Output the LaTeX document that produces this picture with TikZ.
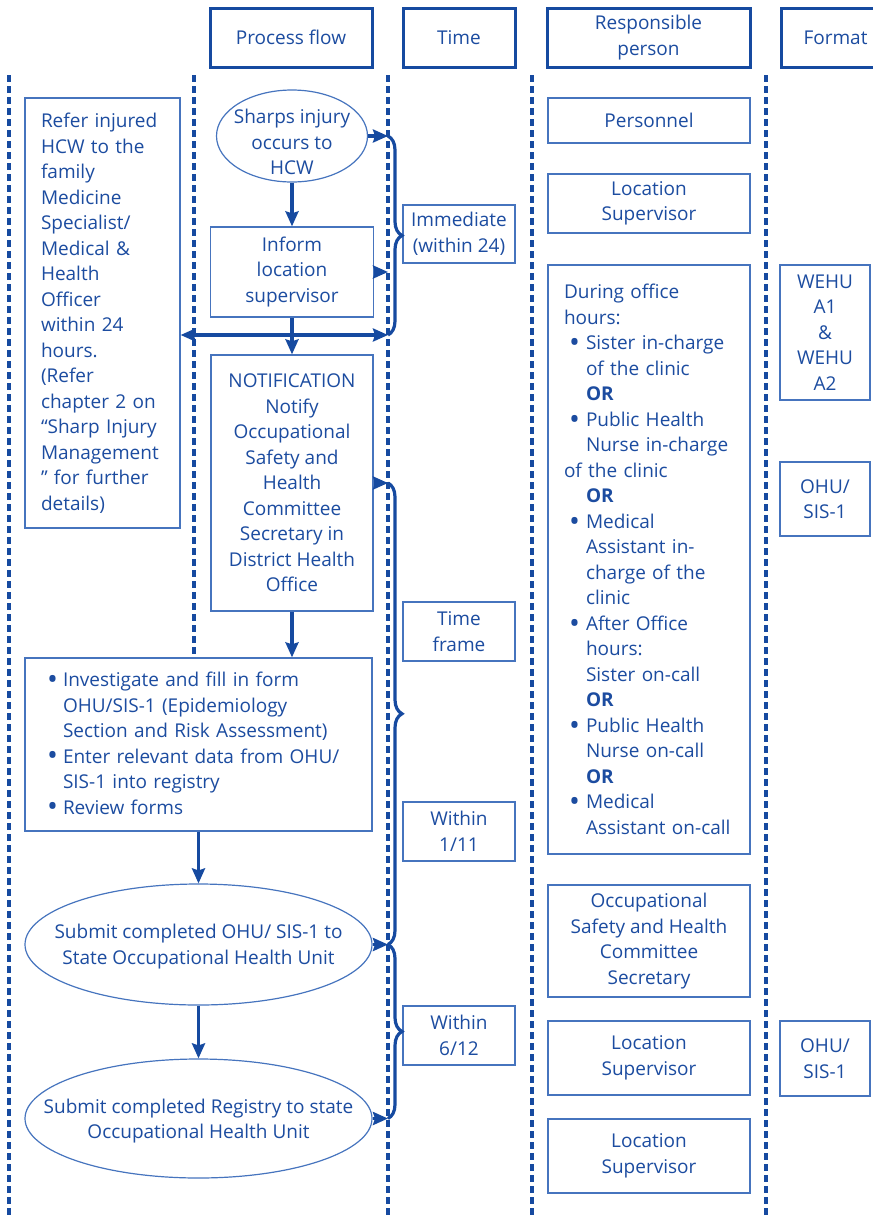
\documentclass[tikz,border=0pt]{standalone}
\usepackage{fontspec}
\setmainfont{Open Sans}
\usetikzlibrary{arrows.meta,decorations.pathreplacing,shapes.geometric}

\definecolor{ink}{RGB}{28,76,160}
\definecolor{rule}{RGB}{22,74,160}
\definecolor{edge}{RGB}{70,116,190}

% list helpers for the boxed texts
\newcommand\blt{\raisebox{-2.8pt}{\fontsize{29}{25.5}\selectfont •}}
\newcommand\rpbul{\hspace*{5pt}\makebox[17pt][l]{\blt}}
\newcommand\rpind{\hspace*{22pt}}
\newcommand\ivbul{\makebox[16pt][l]{\blt}}
\newcommand\ivind{\hspace*{16pt}}

\begin{document}
\begin{tikzpicture}[x=1pt,y=-1pt,
  every node/.style={font=\fontsize{19}{25.5}\selectfont, text=ink},
  head/.style={draw=rule, fill=white, line width=3pt, inner sep=0pt, align=center},
  cell/.style={draw=edge, fill=white, line width=1.3pt, inner sep=0pt, align=center},
  oval/.style={ellipse, draw=edge, fill=white, line width=1.2pt, inner sep=0pt},
  words/.style={inner sep=0pt, align=center},
  lane/.style={draw=rule, line width=3.2pt, dash pattern=on 7pt off 4pt},
  flow/.style={draw=rule, line width=3.2pt, -{Stealth[length=15pt,width=13pt,inset=2pt]}},
  both/.style={draw=rule, line width=3.2pt, {Stealth[length=15pt,width=13pt,inset=2pt]}-{Stealth[length=15pt,width=13pt,inset=2pt]}},
  curly/.style={draw=rule, line width=3.2pt, decorate, decoration={brace, amplitude=14pt}},
]
\useasboundingbox (0,0) rectangle (873,1216);
\clip (0,0) rectangle (873,1216);

% column lanes (the process-flow lane stops at the investigation box)
\foreach \lx in {9,388,532,766}
  \draw[lane] (\lx,75) -- (\lx,1216);
\draw[lane] (194,75) -- (194,657);
\coordinate (tl) at (388,0);

% column headings
\node[head, minimum width=162, minimum height=59] (hproc) at (291,37.5) {Process flow};
\node[head, minimum width=112, minimum height=59] (htime) at (459,37.5) {Time};
\node[head, minimum width=203, minimum height=59] (hresp) at (648.5,37.5) {Responsible\\person};
\node[head, minimum width=109, minimum height=59] (hfmt) at (835.5,37.5) {Format};

% process flow
\node[cell, minimum height=430, text width=123, inner xsep=16pt, align=left] (refer) at (102.5,313)
  {Refer injured\\HCW to the\\family\\Medicine\\Specialist/\\Medical \&\\Health\\Officer\\within 24\\hours.\\(Refer\\chapter 2 on\\“Sharp Injury\\Management\\” for further\\details)};
\node[oval, minimum width=151, minimum height=92] (sharps) at (292,136) {};
\node[words] (sharpst) at (292,142) {Sharps injury\\occurs to\\HCW};
\node[cell, minimum width=163, minimum height=90] (inform) at (292,272) {Inform\\location\\supervisor};
\node[cell, minimum width=162, minimum height=256] (notif) at (292,483)
  {NOTIFICATION\\Notify\\Occupational\\Safety and\\Health\\Committee\\Secretary in\\District Health\\Office};
\node[cell, minimum height=173, text width=303, inner xsep=22pt, align=left] (invest) at (198.5,744.5)
  {\ivbul Investigate and fill in form\\
   \ivind OHU/SIS-1 (Epidemiology\\
   \ivind Section and Risk Assessment)\\
   \ivbul Enter relevant data from OHU/\\
   \ivind SIS-1 into registry\\
   \ivbul Review forms};
\node[oval, minimum width=347, minimum height=121] (sub1) at (198.5,944.5) {};
\node[words] (sub1t) at (198.5,946.5) {Submit completed OHU/ SIS-1 to\\State Occupational Health Unit};
\node[oval, minimum width=347, minimum height=119] (sub2) at (198.5,1118.5) {};
\node[words] (sub2t) at (198.5,1121) {Submit completed Registry to state\\Occupational Health Unit};

% time frames
\node[cell, minimum width=112, minimum height=58] (imm) at (459,234) {Immediate\\(within 24)};
\node[cell, minimum width=112, minimum height=59] (tframe) at (459,631.5) {Time\\frame};
\node[cell, minimum width=112, minimum height=59] (w111) at (459,831.5) {Within\\1/11};
\node[cell, minimum width=112, minimum height=59] (w612) at (459,1035.5) {Within\\6/12};

% responsible persons
\node[cell, minimum width=202, minimum height=45] (pers) at (649,120.5) {Personnel};
\node[cell, minimum width=202, minimum height=59] (loc1) at (649,203.5) {Location\\Supervisor};
\node[cell, minimum height=589, text width=170, inner xsep=16pt, align=left] (duty) at (649,559.5)
  {During office\\
   hours:\\
   \rpbul Sister in-charge\\
   \rpind of the clinic\\
   \rpind\textbf{OR}\\
   \rpbul Public Health\\
   \rpind Nurse in-charge\\
   of the clinic\\
   \rpind\textbf{OR}\\
   \rpbul Medical\\
   \rpind Assistant in-\\
   \rpind charge of the\\
   \rpind clinic\\
   \rpbul After Office\\
   \rpind hours:\\
   \rpind Sister on-call\\
   \rpind\textbf{OR}\\
   \rpbul Public Health\\
   \rpind Nurse on-call\\
   \rpind\textbf{OR}\\
   \rpbul Medical\\
   \rpind Assistant on-call};
\node[cell, minimum width=202, minimum height=112] (occ) at (649,941) {Occupational\\Safety and Health\\Committee\\Secretary};
\node[cell, minimum width=202, minimum height=74] (loc2) at (649,1058) {Location\\Supervisor};
\node[cell, minimum width=202, minimum height=74] (loc3) at (649,1156) {Location\\Supervisor};

% formats
\node[cell, minimum width=90, minimum height=135] (wehu) at (825,332.5) {WEHU\\A1\\\&\\WEHU\\A2};
\node[cell, minimum width=90, minimum height=74] (ohu1) at (825,499) {OHU/\\SIS-1};
\node[cell, minimum width=90, minimum height=75] (ohu2) at (825,1058.5) {OHU/\\SIS-1};

% flow connectors
\coordinate (fork) at (292,335);
\draw[flow] (sharps.south) -- (inform.north);
\draw[flow] (inform.south) -- (notif.north);
\draw[flow] (notif.south) -- (notif.south |- invest.north);
\draw[flow] (invest.south) -- (sub1.north);
\draw[flow] (sub1.south) -- (sub2.north);
\draw[both] (fork -| refer.east) -- (fork -| tl);

% links into the time lane
\draw[flow] (sharps.east) -- (sharps.east -| tl);
\draw[flow] (inform.east) -- (inform.east -| tl);
\draw[flow] (notif.east) -- (notif.east -| tl);
\draw[flow] (sub1.east) -- (sub1.east -| tl);
\draw[flow] (sub2.east) -- (sub2.east -| tl);

% braces grouping the time frames
\draw[curly] (sharps.east -| tl) -- (fork -| tl);
\draw[curly] (notif.east -| tl) -- (sub1.east -| tl);
\draw[curly] (sub1.east -| tl) -- (sub2.east -| tl);
\end{tikzpicture}
\end{document}
